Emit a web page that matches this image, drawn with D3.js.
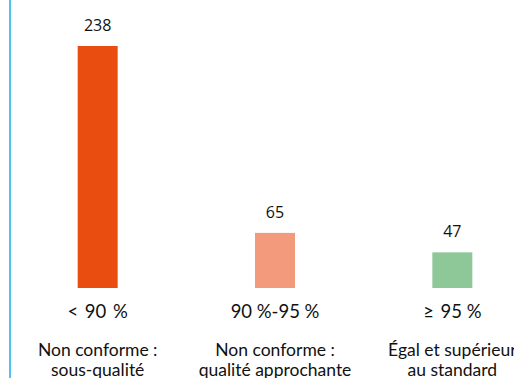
<!DOCTYPE html>
<html><head><meta charset="utf-8">
<script src="https://cdn.jsdelivr.net/npm/d3@7"></script>
<style>html,body{margin:0;padding:0;background:#fff;overflow:hidden}</style>
</head><body>
<svg id="c" width="514" height="378"></svg>
<script>
const categories = ["< 90 %", "90\u202F%-95\u202F%", "\u2265 95\u202F%"];
const descriptions = [
  ["Non conforme\u202F:", "sous-qualité"],
  ["Non conforme\u202F:", "qualité approchante"],
  ["Égal et supérieur", "au standard"]
];
const values = [238, 65, 47];
const colors = ["#E94E10", "#F29A7B", "#8EC899"];

const svg = d3.select("#c");
const font = "Lato, 'Open Sans', sans-serif";

svg.append("line").attr("x1", 10).attr("x2", 10).attr("y1", 0).attr("y2", 378)
  .attr("stroke", "#4FC3F2").attr("stroke-width", 2);

const x = d3.scaleBand().domain(categories).range([9, 541]).paddingInner(0.775).paddingOuter(0.3875);
const y = d3.scaleLinear().domain([14, 238]).range([288, 46]);

svg.selectAll("rect.bar").data(values).join("rect").attr("class", "bar")
  .attr("x", (d, i) => x(categories[i]) + x.bandwidth() / 2 - 20)
  .attr("width", 40)
  .attr("y", d => y(d))
  .attr("height", d => 288 - y(d))
  .attr("fill", (d, i) => colors[i]);

svg.selectAll("text.val").data(values).join("text").attr("class", "val")
  .attr("x", (d, i) => x(categories[i]) + x.bandwidth() / 2)
  .attr("y", d => y(d) - 15)
  .attr("text-anchor", "middle").attr("font-family", "'Open Sans', sans-serif").attr("font-size", 16)
  .attr("fill", "#111").text(d => d);

svg.selectAll("text.cat").data(categories).join("text").attr("class", "cat")
  .attr("x", d => x(d) + x.bandwidth() / 2)
  .attr("y", 318)
  .attr("text-anchor", "middle").attr("font-family", font).attr("font-size", 18.5)
  .attr("word-spacing", 2)
  .attr("fill", "#111").text(d => d);

descriptions.forEach((lines, i) => {
  lines.forEach((t, j) => {
    svg.append("text")
      .attr("x", x(categories[i]) + x.bandwidth() / 2)
      .attr("y", 356 + j * 20)
      .attr("text-anchor", "middle").attr("font-family", font).attr("font-size", 17.5)
      .attr("fill", "#111").text(t);
  });
});
</script>
</body></html>
